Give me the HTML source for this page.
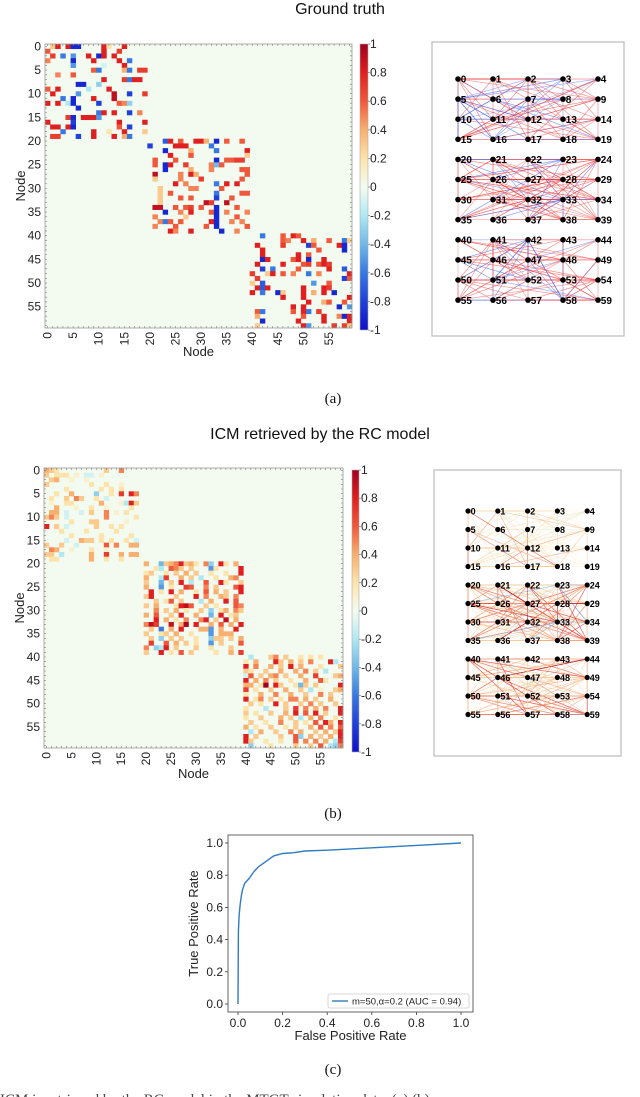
<!DOCTYPE html>
<html><head><meta charset="utf-8"><style>
html,body{margin:0;padding:0;background:#fff;}
svg{display:block;}
text{font-family:"Liberation Sans",sans-serif;}
</style></head><body>
<svg id="fig" width="640" height="1097" viewBox="0 0 640 1097" xmlns="http://www.w3.org/2000/svg">
<text x="340" y="14" text-anchor="middle" font-size="16" fill="#111">Ground truth</text>
<text x="320" y="439" text-anchor="middle" font-size="16" fill="#111">ICM retrieved by the RC model</text>
<text x="333" y="403" text-anchor="middle" font-size="15" style="font-family:'Liberation Serif',serif" fill="#111">(a)</text>
<text x="333" y="818" text-anchor="middle" font-size="15" style="font-family:'Liberation Serif',serif" fill="#111">(b)</text>
<text x="333" y="1074" text-anchor="middle" font-size="15" style="font-family:'Liberation Serif',serif" fill="#111">(c)</text>
<text x="0" y="1104" font-size="15" style="font-family:'Liberation Serif',serif" fill="#444">ICM is retrieved by the RC model in the MTGT simulation data. (a) (b)</text>
<g id="layer"></g>
</svg>
<script>
// ---------- DATA ----------
const gtRows = [
"1:0.3 2:0.8 4:0.8 5:-0.9 6:-0.9 11:0.8 12:0.2 15:0.8","0:0.6 11:0.8 14:0.7","1:0.7 3:-0.6 5:-0.5 8:0.8 10:-0.9 11:0.8 13:0.8","0:0.5 5:-0.9 9:0.8 14:0.8 16:-0.6","5:-0.5 11:-0.1 15:0.8",
"9:0.6 10:-0.6 15:0.4 16:-0.6 18:0.7 19:0.7","2:0.5 5:0.6","11:0.8 15:0.7 16:-0.6 17:0.8 18:0.8","6:-0.9 7:-0.9 10:-0.3","0:0.6 2:0.8 8:-0.2 12:0.8",
"1:0.8 6:-0.5 13:0.9 16:-0.8 19:0.7","3:-0.6 5:-0.9 9:0.8 13:0.9","0:0.8 2:0.8 4:-0.2 5:-0.9 10:-0.8 14:0.6 15:0.5 16:-0.3","6:-0.9","10:-0.6 11:0.8 13:0.8 16:-0.8 18:0.5",
"4:0.7 5:-0.9 7:0.8 8:0.8 9:0.8 10:-0.5","0:0.8 5:-0.8 14:0.8 19:0.8","1:0.8 2:0.8 4:0.8 5:-0.9 14:0.6 16:-0.8","3:-0.6 9:0.8 12:0.2 15:0.8 19:0.3","1:0.7 2:0.7 6:-0.8 9:0.8 13:0.8 15:0.4 16:-0.6",
"23:-0.7 24:0.8 26:0.6 29:0.8 30:0.8 31:0.4 33:-0.9 35:0.6 38:0.6","20:-0.8 25:0.8 26:0.8 27:0.8 32:-0.6","23:-0.9 28:0.4 33:-0.6 39:0.8","24:0.8 28:0.6 39:0.3","21:0.6 25:0.6 33:-0.9 35:0.6 36:0.6 37:0.7 38:0.7",
"21:0.6 23:-0.9 24:0.8 27:0.7 32:0.5 33:-0.4 34:0.6","23:-0.9 28:0.4 32:0.5 38:0.6 39:0.6","21:0.9 26:0.5 28:0.8 29:0.4 39:0.6","21:0.3 26:0.5 30:0.7 38:0.6","25:0.8 27:0.5 33:-0.6 35:0.8 37:0.8",
"22:0.3 28:0.5 29:0.5 34:0.6","22:0.3 24:0.6 33:-0.6 38:0.6 39:0.6","22:0.3 26:0.6 28:0.6 33:-0.8 36:0.6","22:0.3 31:0.9 32:0.7 35:0.9","21:0.9 22:0.9 25:0.6 27:0.6 28:0.7 30:0.6 33:-0.9 37:0.6",
"23:-0.9 26:0.5 28:0.8 32:0.6 33:-0.9 35:0.5 39:0.5","21:0.5 27:0.3 33:-0.9 37:0.6","22:0.5 23:-0.6 24:0.6 26:0.6 32:0.8 33:-0.9 36:0.5 38:0.5","21:0.5 25:0.6 31:0.6 33:-0.9 39:0.6","24:0.8 25:0.5 28:0.8 34:-0.9 37:0.5",
"42:-0.6 46:0.6 48:0.8 49:0.6","46:0.6 47:0.5 50:0.8 52:0.4 55:0.6 58:-0.6 59:0.3","41:0.8 46:0.7 51:-0.8 52:0.6 57:0.8 58:-0.9","42:0.8 53:0.6 58:-0.9","42:0.8 49:0.8 51:0.6",
"42:-0.9 43:0.8 48:0.6 49:0.8 51:-0.9 54:0.8","41:0.8 46:0.8 50:0.6 51:0.7 53:0.6 54:0.8 55:0.7","42:-0.8 44:-0.6 49:0.6 55:0.8 58:-0.7","40:0.7 43:0.3 44:0.8 46:0.6 48:0.5 51:-0.6 53:0.5 59:0.8","41:0.7 58:-0.8 59:0.6",
"40:0.3 42:-0.7 52:-0.5 55:0.6","41:0.8 42:-0.7 43:0.8 50:0.8 54:0.8 55:0.7","40:0.8 42:-0.6 45:-0.9 46:0.3 50:0.8 52:0.4 54:0.8 56:-0.9","46:0.8 50:0.8 59:0.8","51:0.8 54:0.4 55:0.6 58:0.6",
"48:0.8 50:0.8 57:-0.9 59:-0.5","41:0.6 42:-0.6 48:0.6 50:0.8 51:-0.6 53:0.7","41:0.4 50:0.6 54:0.8 57:0.5 58:-0.9 59:0.8","42:-0.9 49:0.8 54:0.8 59:0.8","41:0.3 50:0.8 51:-0.5 56:0.7 58:0.7 59:0.3"
];
const icmRows = [
"0:0.4 1:0.3 2:0.2 12:0.3 15:0.5","0:0.3 2:0.2 3:0.2 4:0.2 6:0.1 8:-0.1 9:-0.1 11:0.1","1:0.3 2:0.4 5:0.1 8:0.1","0:0.3 9:0.2 12:0.2 15:0.1","4:0.2 11:0.2 13:0.2 15:0.2",
"2:0.2 5:0.4 10:-0.3 13:0.2 15:0.7 17:0.8 18:0.5","1:0.2 4:0.3 6:0.5 7:0.3 10:0.2 12:-0.1","1:0.1 4:0.2 5:0.2 11:0.4 15:0.1 16:-0.2 17:0.8 18:0.3","2:0.4 6:0.1 9:0.2 12:0.1 17:0.2","1:0.4 2:0.4 4:-0.1 7:-0.1 9:0.3 12:0.5 14:0.1 16:0.2",
"0:0.3 1:0.5 2:0.3 4:-0.1 12:0.5 18:0.2","5:0.2 9:0.3 10:0.3 16:0.1","0:0.8 2:0.3 4:-0.1 10:0.3 13:0.2 15:0.2","3:0.2 8:0.2 14:0.2","5:0.2 11:0.2 17:0.2",
"4:-0.1 7:0.4 8:0.3 9:0.3 11:0.2 13:0.2 16:0.2 18:-0.1","0:0.3 3:0.3 6:-0.1 12:0.6 14:0.5 17:0.4 18:0.4","1:0.5 2:0.4 5:0.1 9:0.2 12:0.1","0:0.3 1:0.3 3:-0.2 9:0.4 12:0.7 15:0.4 17:0.4 18:0.4","1:0.2 2:0.2 9:0.4 12:0.2 15:0.2",
"20:0.4 23:-0.4 24:0.3 25:0.4 26:0.5 27:0.8 28:0.3 29:0.4 30:0.2 32:0.5 33:-0.3 35:0.8 36:0.2 38:0.4","22:0.2 23:-0.2 25:0.6 26:0.5 27:0.3 29:0.3 33:-0.5 34:0.2 39:0.8","20:0.2 21:0.3 24:0.2 26:0.3 28:0.4 30:0.3 33:0.2 36:0.2 39:0.8","20:0.4 23:-0.2 24:0.7 27:0.4 29:0.3 31:-0.2 34:0.2 37:0.4 38:0.5","20:0.3 23:-0.4 25:0.3 27:0.8 29:-0.2 32:0.6 35:0.8 36:0.2 39:0.3",
"20:0.4 23:-0.5 25:0.2 28:0.7 29:0.6 32:0.5 34:0.3 38:0.6 39:0.8","21:0.8 23:0.2 25:0.8 27:0.4 30:0.2 32:0.6 34:0.4 36:0.3 39:0.8","20:0.3 21:0.8 26:0.3 30:0.8 32:0.5 35:0.4 36:0.3 38:0.5","22:0.3 24:0.2 25:0.6 27:0.3 31:-0.2 33:0.4 36:0.8 38:0.6","20:0.3 22:0.4 26:0.2 27:0.8 28:0.9 29:0.6 32:0.3 34:0.2 38:0.6 39:0.5",
"22:0.5 24:0.3 26:0.4 28:0.2 31:0.3 33:-0.3 35:0.2 36:0.4 38:0.5 39:0.3","20:0.4 22:0.6 25:0.3 27:0.8 30:0.4 33:-0.4 35:0.8 37:0.2 38:0.3","22:0.8 24:0.4 26:0.2 28:0.5 31:0.5 32:0.8 34:0.3 36:0.9 38:0.4","20:0.5 21:0.9 22:0.7 25:0.9 27:0.4 28:0.95 30:0.8 33:0.4 35:0.6 37:0.4 39:0.8","21:0.3 23:-0.6 25:0.4 27:0.8 31:0.4 32:0.4 33:-0.5 35:0.4 38:0.8",
"20:0.3 23:0.2 24:0.3 26:0.4 29:0.2 33:-0.5 35:0.4 36:0.4 37:0.4","21:0.3 23:-0.3 25:0.3 27:0.3 30:0.2 33:-0.3 34:0.3 35:0.3 37:0.3 39:0.4","21:0.7 24:0.6 26:0.4 28:0.3 30:0.2 33:-0.5 35:0.3 39:0.6","20:0.5 22:-0.3 23:-0.2 24:0.8 26:0.3 30:0.3 33:0.2 37:0.3","20:0.3 23:0.8 25:0.2 27:0.6 29:0.3 34:0.2 37:0.4 39:0.7",
"41:-0.2 45:0.3 46:0.5 48:0.3 51:0.2 53:0.2 55:0.2","40:0.2 42:0.4 46:0.8 47:0.3 49:0.4 51:0.3 53:0.5 57:0.8 58:-0.2","40:0.8 42:0.5 45:0.4 47:0.3 49:0.8 51:0.4 55:0.2 59:0.3","40:0.3 41:0.2 44:0.3 47:0.4 50:0.4 52:0.5 54:0.3 56:-0.2","40:-0.1 41:0.6 43:0.3 45:0.4 46:0.5 48:0.3 51:0.4 54:0.7 58:0.3 59:0.4",
"40:0.8 42:0.4 44:0.5 46:0.3 49:0.2 52:0.4 55:0.6 56:0.2","40:0.4 41:0.4 43:0.2 44:1.0 46:0.8 47:0.3 50:0.2 51:-0.4 52:0.3 54:0.3 59:0.8","40:0.7 42:0.2 45:0.3 48:0.4 51:0.3 53:-0.2 55:0.1 58:0.3 59:0.4","40:0.2 43:0.4 46:0.5 49:0.4 52:0.3 55:0.5 57:0.3","40:0.8 42:0.2 43:0.5 45:0.3 47:0.2 49:0.5 50:0.5 52:0.4 54:0.3 57:0.4",
"41:0.3 43:0.2 46:0.8 48:0.3 51:0.3 53:0.5 55:0.3 58:0.3","40:0.2 44:-0.2 48:0.3 50:0.7 52:0.5 54:0.4 56:0.5 59:0.8","40:0.3 42:0.2 45:0.3 48:0.4 50:0.8 52:0.6 54:0.8 56:0.3 59:0.8","40:0.2 43:0.3 47:0.4 49:0.3 51:-0.2 53:0.4 55:0.5 58:0.2","41:0.3 44:0.2 47:0.5 50:0.3 52:0.2 54:0.6 56:0.8 57:0.4 59:0.8",
"40:0.4 42:0.2 45:0.3 48:0.2 50:0.3 53:0.4 55:0.6 57:0.5 59:0.6","41:-0.2 43:0.4 46:0.3 49:0.5 51:0.4 54:0.3 56:0.4 58:0.3 59:0.8","40:0.8 42:0.3 47:0.3 50:0.6 51:-0.3 53:0.4 55:0.3 57:0.4 59:0.8","40:0.8 41:0.3 44:0.2 47:0.2 50:0.6 52:0.5 54:0.5 56:0.4 58:-0.2 59:0.7","41:-0.3 45:0.2 50:0.3 53:0.3 55:0.6 57:-0.2 58:-0.3 59:0.5"
];
const nodeTicks = [0,5,10,15,20,25,30,35,40,45,50,55];
const cbTicks = [1,0.8,0.6,0.4,0.2,0,-0.2,-0.4,-0.6,-0.8,-1];
const rocFpr = [0,0.002,0.005,0.01,0.015,0.02,0.03,0.05,0.07,0.09,0.11,0.13,0.16,0.2,0.25,0.3,0.4,0.6,0.8,1.0];
const rocTpr = [0,0.45,0.55,0.62,0.67,0.71,0.75,0.78,0.82,0.85,0.87,0.89,0.92,0.935,0.94,0.95,0.955,0.97,0.985,1.0];
const rocTicks = [0,0.2,0.4,0.6,0.8,1.0];
const rocLabels = ["0.0","0.2","0.4","0.6","0.8","1.0"];

// ---------- HELPERS ----------
const NS="http://www.w3.org/2000/svg";
const layer=document.getElementById('layer');
function mk(tag,attrs,parent){const e=document.createElementNS(NS,tag);for(const k in attrs)e.setAttribute(k,attrs[k]);(parent||layer).appendChild(e);return e;}
function parseRows(rows){const out=[];rows.forEach((s,r)=>{s.split(' ').forEach(p=>{if(!p)return;const [c,v]=p.split(':');out.push([r,+c,+v]);});});return out;}
const stops=[[-1,[16,16,200]],[-0.8,[32,64,216]],[-0.6,[56,120,224]],[-0.4,[112,184,232]],[-0.2,[176,232,242]],[0,[243,251,240]],[0.2,[252,228,172]],[0.4,[247,176,112]],[0.6,[240,88,60]],[0.8,[224,32,32]],[1,[160,0,32]]];
function cmap(v){v=Math.max(-1,Math.min(1,v));for(let i=0;i<stops.length-1;i++){const a=stops[i],b=stops[i+1];if(v<=b[0]){const t=(v-a[0])/(b[0]-a[0]);const c=a[1].map((x,k)=>Math.round(x+(b[1][k]-x)*t));return `rgb(${c[0]},${c[1]},${c[2]})`;}}return 'rgb(160,0,32)';}

function heatmap(name,entries,H,CB,xlabY){
  const g=mk('g',{});
  
  
  const cw=H.w/60,ch=H.h/60;
  const bg=mk('rect',{x:H.x,y:H.y,width:H.w,height:H.h,fill:cmap(0)},g);
  
  
  entries.forEach(([r,c,v])=>{
    const cell=mk('rect',{x:(H.x+c*cw).toFixed(2),y:(H.y+r*ch).toFixed(2),width:(cw+0.3).toFixed(2),height:(ch+0.3).toFixed(2),fill:cmap(v)},g);
    
    
  });
  let d='';
  for(let i=0;i<60;i++){const x=H.x+(i+0.5)*cw,y=H.y+(i+0.5)*ch;
    d+=`M${x} ${H.y}v2M${x} ${H.y+H.h}v-2M${H.x} ${y}h2M${H.x+H.w} ${y}h-2`;}
  mk('path',{d:d,stroke:'#777','stroke-width':0.6,fill:'none'},g);
  mk('rect',{x:H.x,y:H.y,width:H.w,height:H.h,fill:'none',stroke:'#999','stroke-width':0.8},g);
  nodeTicks.forEach(t=>{
    const y=H.y+(t+0.5)*ch;
    const ty=mk('text',{x:H.x-4,y:y+4,'text-anchor':'end','font-size':12,fill:'#222'},g);ty.textContent=t;
    
    
    const x=H.x+(t+0.5)*cw;
    const tx=mk('text',{x:0,y:0,'text-anchor':'end','font-size':12,fill:'#222',transform:`translate(${x+4},${H.y+H.h+4}) rotate(-90)`},g);tx.textContent=t;
    
    
  });
  const yl=mk('text',{x:0,y:0,'text-anchor':'middle','font-size':13,fill:'#222',transform:`translate(${H.x-20},${H.y+H.h/2}) rotate(-90)`},g);yl.textContent='Node';
  
  
  const xl=mk('text',{x:H.x+H.w/2,y:xlabY,'text-anchor':'middle','font-size':13,fill:'#222'},g);xl.textContent='Node';
  
  
  const gid='grad'+name;
  const defs=mk('defs',{},g);const lg=mk('linearGradient',{id:gid,x1:0,y1:1,x2:0,y2:0},defs);
  for(let i=0;i<=20;i++){const v=-1+i*0.1;mk('stop',{offset:(i/20),'stop-color':cmap(v)},lg);}
  const cb=mk('rect',{x:CB.x,y:CB.y,width:CB.w,height:CB.h,fill:`url(#${gid})`,stroke:'#aaa','stroke-width':0.6},g);
  
  
  cbTicks.forEach(t=>{
    const y=CB.y+(1-t)/2*CB.h;
    mk('line',{x1:CB.x+CB.w,x2:CB.x+CB.w+2,y1:y,y2:y,stroke:'#666','stroke-width':0.6},g);
    const lt=mk('text',{x:CB.x+CB.w+2,y:y+4,'font-size':12,fill:'#222'},g);lt.textContent=t;
    
    
  });
}

function network(name,entries,B,N,ice){
  const g=mk('g',{});
  
  
  const box=mk('rect',{x:B.x,y:B.y,width:B.w,height:B.h,fill:'#fff',stroke:'#bbb','stroke-width':1.2},g);
  
  
  const pos=k=>[N.x0+(k%5)*N.dx, N.y0+Math.floor(k/5)*N.dy];
  entries.forEach(([r,c,v])=>{
    if(r===c)return;
    const [x1,y1]=pos(c),[x2,y2]=pos(r);
    const col=ice?cmap(v):(v>0?'#f03a3a':'#3a5af0');
    const op=ice?Math.min(0.85,0.25+0.6*Math.abs(v)):0.3+0.35*Math.abs(v);
    const ln=mk('line',{x1:x1,y1:y1,x2:x2,y2:y2,stroke:col,'stroke-width':0.7,'stroke-opacity':op.toFixed(2)},g);
    
    
  });
  for(let k=0;k<60;k++){
    const [x,y]=pos(k);
    const dot=mk('circle',{cx:x,cy:y,r:N.r,fill:'#000'},g);
    
    
    const t=mk('text',{x:x+N.r,y:y+N.fs*0.37,'font-size':N.fs,fill:'#000','font-weight':'bold'},g);t.textContent=k;
    
    
  }
}

const gtEntries=parseRows(gtRows), icmEntries=parseRows(icmRows);
heatmap('ground-truth-heatmap',gtEntries,{x:45,y:44,w:307,h:284},{x:360,y:44,w:8,h:286},356);
heatmap('icm-heatmap',icmEntries,{x:44,y:468,w:299,h:280},{x:352,y:470,w:7,h:282},778);
network('ground-truth-network',gtEntries,{x:432,y:42,w:192,h:294},{x0:458,y0:79,dx:35,dy:20.1,r:2.8,fs:10},false);
network('icm-network',icmEntries,{x:434,y:470,w:187,h:286},{x0:468,y0:511,dx:29.8,dy:18.5,r:2.6,fs:9},true);

// ---------- ROC ----------
(function(){
  const A={l:228,r:473,t:835,b:1012};
  const sx=v=>238+v*(461-238), sy=v=>1004-v*(1004-843);
  const g=mk('g',{});
  
  
  rocTicks.forEach((t,i)=>{
    mk('line',{x1:sx(t),x2:sx(t),y1:A.b,y2:A.b+3,stroke:'#333','stroke-width':0.8},g);
    const tx=mk('text',{x:sx(t),y:A.b+15,'text-anchor':'middle','font-size':12,fill:'#222'},g);tx.textContent=rocLabels[i];
    
    
    mk('line',{x1:A.l-3,x2:A.l,y1:sy(t),y2:sy(t),stroke:'#333','stroke-width':0.8},g);
    const ty=mk('text',{x:A.l-5,y:sy(t)+4,'text-anchor':'end','font-size':12,fill:'#222'},g);ty.textContent=rocLabels[i];
    
    
  });
  const pts=rocFpr.map((f,i)=>sx(f).toFixed(1)+','+sy(rocTpr[i]).toFixed(1)).join(' ');
  const line=mk('polyline',{points:pts,fill:'none',stroke:'#2f7dbf','stroke-width':1.4},g);
  
  
  mk('rect',{x:A.l,y:A.t,width:A.r-A.l,height:A.b-A.t,fill:'none',stroke:'#555','stroke-width':0.9},g);
  const lg=mk('g',{},g);
  
  
  mk('rect',{x:328,y:994,width:141,height:14,fill:'#fff',stroke:'#ccc','stroke-width':0.8,rx:2},lg);
  mk('line',{x1:332,x2:348,y1:1001,y2:1001,stroke:'#2f7dbf','stroke-width':1.4},lg);
  const lt=mk('text',{x:352,y:1004.5,'font-size':9.5,fill:'#222'},lg);lt.textContent='m=50,α=0.2 (AUC = 0.94)';
  const xt=mk('text',{x:(A.l+A.r)/2,y:1040,'text-anchor':'middle','font-size':13,fill:'#222'},g);xt.textContent='False Positive Rate';
  
  
  const yt=mk('text',{x:0,y:0,'text-anchor':'middle','font-size':13,fill:'#222',transform:`translate(198,${(A.t+A.b)/2}) rotate(-90)`},g);yt.textContent='True Positive Rate';
  
  
})();
</script>
</body></html>
